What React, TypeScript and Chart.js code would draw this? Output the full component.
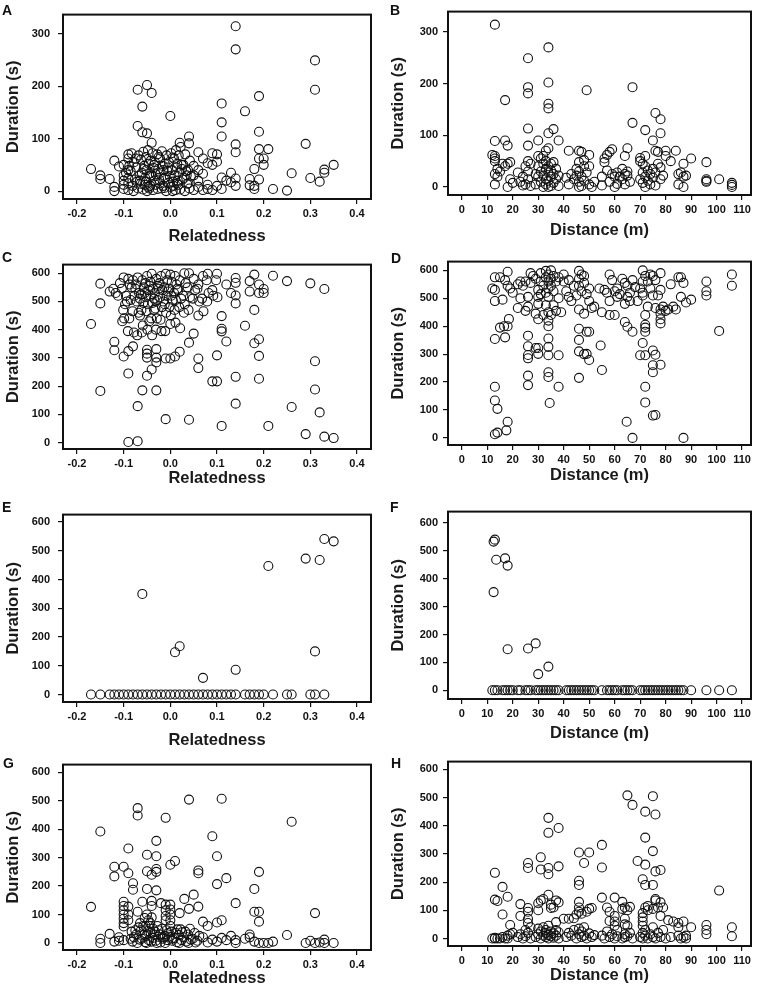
import React, { useEffect, useRef } from "react";
import { Chart, registerables } from "chart.js";

Chart.register(...registerables);
Chart.defaults.font.family = '"Liberation Sans", Arial, sans-serif';

// ---------- tick labels ----------
const relTicks = [-0.2, -0.1, 0.0, 0.1, 0.2, 0.3, 0.4];
const distTicks = [0, 10, 20, 30, 40, 50, 60, 70, 80, 90, 100, 110];
const dur300Ticks = [0, 100, 200, 300];
const dur600Ticks = [0, 100, 200, 300, 400, 500, 600];

// ---------- data: [x, duration] ----------
const relDurA: [number, number][] = [
  [0.14, 314], [0.14, 270], [0.31, 249], [0.31, 193], [-0.07, 193], [-0.05, 202], [-0.04, 187], [-0.06, 161],
  [0.0, 143], [0.11, 167], [0.11, 131], [0.11, 104], [0.16, 152], [0.19, 181], [0.19, 113], [0.29, 90],
  [0.14, 89], [0.14, 74], [0.21, 80], [0.19, 80], [0.2, 62], [0.2, 50], [0.19, 62], [0.18, 42], [0.19, 22],
  [0.18, 10], [0.04, 104], [0.04, 91], [0.02, 92], [-0.04, 92], [-0.07, 124], [-0.06, 112], [-0.05, 110],
  [0.35, 50], [0.33, 41], [0.33, 35], [0.32, 18], [0.3, 25], [0.26, 34], [0.25, 1], [0.22, 4], [0.18, 4],
  [0.17, 23], [0.17, 11], [0.14, 24], [0.14, 10], [0.13, 35], [0.13, 17], [0.11, 26], [0.11, 4], [0.12, 20],
  [0.1, 10], [0.09, 2], [0.08, 4], [0.08, 12], [0.1, 56], [0.09, 72], [0.1, 70], [0.08, 53], [0.09, 50],
  [0.07, 62], [0.06, 74], [0.06, 40], [0.07, 33], [0.06, 20], [0.06, 8], [0.05, 48], [0.05, 30], [0.05, 2], [0.07, 2],
  [-0.17, 42], [-0.15, 30], [-0.15, 23], [-0.13, 23], [-0.12, 58], [-0.11, 47], [-0.12, 8], [-0.12, 0],
  [-0.1, 50], [-0.1, 30], [-0.1, 20], [-0.1, 12], [-0.1, 4], [-0.09, 70], [-0.09, 62], [-0.09, 40], [-0.09, 25],
  [-0.09, 15], [-0.09, 2],
  [-0.083, 72], [-0.078, 55], [-0.085, 38], [-0.076, 22], [-0.081, 10], [-0.079, 0],
  [-0.068, 68], [-0.073, 45], [-0.066, 30], [-0.071, 18], [-0.069, 5],
  [-0.058, 75], [-0.063, 60], [-0.056, 48], [-0.061, 35], [-0.054, 25], [-0.064, 14], [-0.059, 3],
  [-0.048, 78], [-0.052, 65], [-0.046, 52], [-0.051, 40], [-0.044, 28], [-0.053, 18], [-0.047, 8], [-0.05, 0],
  [-0.038, 72], [-0.042, 58], [-0.036, 44], [-0.041, 30], [-0.034, 20], [-0.043, 10], [-0.037, 2],
  [-0.028, 70], [-0.033, 55], [-0.026, 42], [-0.031, 32], [-0.024, 22], [-0.032, 12], [-0.027, 4],
  [-0.018, 76], [-0.022, 62], [-0.016, 48], [-0.021, 35], [-0.014, 25], [-0.023, 15], [-0.019, 5],
  [-0.008, 68], [-0.012, 52], [-0.006, 38], [-0.011, 26], [-0.004, 16], [-0.013, 6], [-0.009, 0],
  [0.002, 72], [-0.003, 55], [0.004, 40], [-0.001, 28], [0.006, 18], [0.001, 8],
  [0.012, 78], [0.008, 62], [0.014, 45], [0.009, 30], [0.016, 20], [0.007, 10], [0.011, 2],
  [0.022, 84], [0.018, 68], [0.024, 50], [0.019, 35], [0.026, 22], [0.017, 12], [0.021, 3],
  [0.032, 70], [0.028, 50], [0.034, 38], [0.029, 25], [0.036, 14], [0.031, 0],
  [0.042, 58], [0.038, 40], [0.044, 28], [0.039, 15], [0.041, 5],
  [-0.095, 35], [-0.088, 48], [-0.074, 62], [-0.057, 42], [-0.045, 33], [-0.035, 50], [-0.025, 65],
  [-0.015, 40], [-0.005, 45], [0.005, 64], [0.015, 52], [0.025, 42], [0.035, 30], [-0.065, 20],
  [-0.055, 12], [-0.045, 5], [-0.015, 10], [0.005, 0], [0.015, 15],
];

const distDurB: [number, number][] = [
  [13, 314], [34, 270], [26, 249], [26, 193], [26, 181], [34, 202], [49, 187], [67, 193], [17, 168], [34, 161],
  [34, 152], [76, 143], [78, 131], [67, 124], [72, 110], [26, 113], [36, 112], [34, 104], [78, 104], [75, 90],
  [13, 89], [17, 90], [18, 80], [26, 80], [30, 90], [38, 90], [33, 70], [32, 60], [34, 75], [65, 75], [64, 60],
  [59, 73], [58, 68], [57, 62], [56, 55], [46, 70], [47, 68], [42, 70], [50, 62], [76, 70], [77, 68], [80, 70],
  [84, 70], [80, 60], [82, 50], [90, 55], [96, 48], [87, 45], [72, 60], [70, 56],
  [13, 60], [13, 55], [13, 50], [12, 62], [13, 25], [13, 5], [14, 35], [14, 20], [15, 30], [16, 45], [18, 45],
  [19, 48], [17, 40], [18, 0], [19, 15], [20, 8],
  [22, 28], [23, 10], [24, 20], [25, 40], [25, 5], [26, 50], [26, 30], [26, 15], [27, 2], [27, 45], [24, 3],
  [29, 5], [30, 20], [30, 40], [30, 60], [31, 10], [31, 30], [32, 0], [32, 45], [32, 22], [33, 15], [33, 35],
  [33, 5], [34, 28], [34, 12], [34, 40], [35, 2], [35, 20], [35, 32], [36, 8], [36, 25], [36, 48], [37, 15],
  [37, 35], [38, 2], [38, 22], [31, 55], [29, 25], [33, 50], [34, 0], [35, 45],
  [41, 18], [42, 5], [43, 25], [44, 15], [45, 35], [46, 10], [46, 48], [46, 30], [47, 2], [47, 20], [48, 40],
  [48, 12], [48, 52], [49, 28], [50, 5], [50, 40], [51, 0], [52, 10], [46, 0], [45, 22],
  [55, 20], [55, 3], [56, 48], [57, 32], [58, 10], [59, 25], [60, 0], [60, 20], [61, 28], [61, 6],
  [63, 15], [63, 35], [64, 25], [64, 5], [65, 22], [65, 30], [66, 10], [62, 20],
  [70, 15], [71, 28], [71, 8], [72, 40], [72, 20], [72, 0], [73, 32], [73, 12], [74, 25], [74, 5], [75, 35],
  [75, 18], [76, 28], [76, 3], [77, 45], [78, 15], [78, 38], [79, 22], [70, 50], [71, 45],
  [85, 25], [85, 5], [86, 28], [87, 0], [87, 20], [88, 22],
  [96, 12], [96, 10], [96, 15], [101, 15], [106, 8], [106, 0], [106, 4],
];

const relDurC: [number, number][] = [
  [-0.15, 183], [-0.15, 493], [-0.15, 563], [-0.17, 420], [-0.12, 357], [-0.12, 327], [-0.1, 305], [-0.09, 324],
  [-0.08, 341], [-0.09, 245], [-0.06, 185], [-0.07, 129], [-0.09, 2], [-0.07, 5], [-0.03, 185], [-0.05, 237],
  [-0.04, 259], [-0.03, 284], [-0.03, 301], [-0.05, 329], [-0.05, 301], [-0.05, 315], [-0.03, 331], [-0.01, 83],
  [0.04, 81], [0.11, 59], [0.21, 59], [-0.01, 298], [0.0, 298], [0.01, 305], [0.02, 322], [0.04, 354],
  [0.05, 386], [0.06, 298], [0.06, 264], [0.09, 217], [0.1, 217], [0.1, 309], [0.12, 358], [0.11, 403],
  [0.11, 394], [0.11, 448], [0.14, 233], [0.14, 138], [0.16, 414], [0.18, 352], [0.19, 366], [0.19, 307],
  [0.19, 226], [0.18, 470], [0.26, 126], [0.29, 30], [0.31, 288], [0.31, 188], [0.32, 107], [0.33, 21],
  [0.35, 16], [0.22, 591], [0.25, 572], [0.3, 564], [0.33, 544], [0.17, 572], [0.18, 595], [0.19, 560],
  [0.2, 544], [0.2, 530], [0.17, 535], [0.19, 530], [0.14, 583], [0.14, 566], [0.14, 521], [0.14, 493],
  [0.13, 530], [0.12, 560],
  [-0.13, 535], [-0.122, 545], [-0.117, 530], [-0.108, 565], [-0.112, 520],
  [-0.1, 585], [-0.104, 545], [-0.097, 490], [-0.101, 470], [-0.099, 440], [-0.103, 430],
  [-0.09, 580], [-0.087, 560], [-0.093, 500], [-0.088, 440], [-0.091, 395],
  [-0.08, 575], [-0.083, 550], [-0.077, 520], [-0.081, 465], [-0.078, 390],
  [-0.07, 585], [-0.073, 560], [-0.067, 530], [-0.072, 500], [-0.068, 460], [-0.071, 380],
  [-0.06, 575], [-0.057, 550], [-0.063, 525], [-0.058, 495], [-0.062, 470], [-0.059, 415], [-0.061, 390],
  [-0.05, 590], [-0.053, 565], [-0.047, 540], [-0.052, 515], [-0.048, 490], [-0.051, 465], [-0.049, 400],
  [-0.04, 598], [-0.043, 570], [-0.037, 545], [-0.042, 520], [-0.038, 495], [-0.041, 440], [-0.039, 380],
  [-0.03, 580], [-0.027, 555], [-0.033, 530], [-0.028, 505], [-0.032, 475], [-0.029, 440], [-0.031, 400],
  [-0.02, 590], [-0.023, 565], [-0.017, 540], [-0.022, 515], [-0.018, 480], [-0.021, 435], [-0.019, 395],
  [-0.01, 598], [-0.007, 575], [-0.013, 550], [-0.008, 520], [-0.012, 490], [-0.009, 460], [-0.011, 395],
  [0.0, 595], [0.003, 570], [-0.003, 545], [0.002, 520], [-0.002, 480], [0.001, 450], [0.0, 420],
  [0.01, 590], [0.013, 560], [0.008, 530], [0.012, 505], [0.009, 470], [0.011, 425],
  [0.02, 575], [0.017, 540], [0.023, 510], [0.019, 480], [0.021, 405],
  [0.03, 600], [0.033, 565], [0.028, 520], [0.031, 490], [0.029, 460],
  [0.04, 600], [0.037, 550], [0.042, 515], [0.039, 470],
  [0.05, 580], [0.053, 540], [0.048, 510],
  [0.06, 560], [0.058, 545], [0.062, 500], [0.06, 450],
  [0.07, 590], [0.068, 510], [0.071, 465],
  [0.08, 598], [0.078, 575], [0.082, 530], [0.079, 500],
  [0.09, 540], [0.092, 520], [0.1, 598], [0.098, 575], [0.101, 515],
  [-0.095, 520], [-0.085, 505], [-0.075, 545], [-0.065, 510], [-0.055, 530], [-0.045, 555], [-0.035, 510],
  [-0.025, 545], [-0.015, 500], [-0.005, 535], [0.005, 505], [0.015, 545], [-0.065, 450], [-0.045, 430],
  [-0.035, 470],
];

const distDurD: [number, number][] = [
  [13, 183], [13, 134], [14, 104], [13, 13], [14, 19], [17.5, 27], [18, 58], [13, 354], [15, 395], [17, 360],
  [18, 400], [18.5, 426], [16.6, 400], [26, 366], [26, 328], [26, 297], [26, 285], [26, 223], [26, 189],
  [29, 322], [30, 322], [30, 301], [34, 296], [34, 326], [34, 356], [34, 235], [34, 218], [34.5, 125],
  [38, 183], [38, 296], [46, 391], [46, 351], [46, 310], [46, 215], [49, 301], [49, 380], [50, 279],
  [54.5, 331], [55, 243], [64.7, 58], [67, 0], [87, 0], [64, 415], [65, 398], [67, 380],
  [70, 296], [71, 340], [72, 296], [72, 380], [72, 395], [72, 405], [72, 183], [72, 127], [75, 313], [76, 298],
  [75, 260], [75, 235], [78, 262], [75, 80], [76, 82], [78, 410], [78, 425], [78, 445], [101, 383],
  [12, 535], [13, 530], [13, 490], [13, 575], [15, 575], [16, 495], [18, 595], [18, 545], [19, 535], [20, 520], [17, 565],
  [22, 465], [22, 550], [23, 560], [23, 500], [24, 545], [25, 560], [25, 455], [26, 505], [26, 470], [27, 555], [27, 590],
  [28, 580], [29, 570], [29, 445], [30, 530], [30, 505], [30, 480], [30, 425], [31, 560], [31, 590], [31, 515],
  [32, 545], [32, 440], [33, 598], [33, 575], [33, 520], [33, 475], [34, 560], [34, 585], [34, 535], [34, 505],
  [34, 450], [34, 420], [34, 400], [35, 600], [35, 570], [35, 545], [35, 440], [36, 580], [36, 525], [36, 475],
  [37, 560], [37, 455], [38, 575], [38, 500], [39, 450],
  [40, 585], [40, 560], [41, 525], [42, 565], [42, 505], [43, 490], [44, 545], [45, 510], [46, 598], [46, 570],
  [46, 545], [46, 460], [47, 585], [47, 525], [48, 580], [48, 555], [48, 445], [49, 515], [50, 490], [50, 535],
  [51, 465], [52, 470], [50, 380], [48, 300],
  [54, 535], [55, 450], [56, 530], [57, 520], [58, 585], [58, 490], [58, 440], [59, 565], [60, 525], [60, 440],
  [61, 505], [61, 535], [62, 515],
  [63, 570], [64, 480], [64, 555], [65, 545], [65, 505], [66, 520], [66, 490], [67, 565], [68, 540],
  [69, 490], [70, 535], [71, 600], [71, 560], [71, 520], [71, 510], [72, 580], [72, 440], [73, 560], [73, 470],
  [74, 585], [74, 535], [75, 580], [75, 510], [76, 565], [76, 465], [77, 510], [78, 590], [78, 530], [78, 460],
  [79, 470], [80, 455],
  [81, 460], [82, 550], [83, 470], [84, 460], [85, 575], [86, 575], [86, 505], [87, 555], [88, 485], [90, 495],
  [96, 560], [96, 525], [96, 510], [106, 585], [106, 545],
];

const relDurE: [number, number][] = [
  [-0.06, 350], [0.01, 147], [0.02, 168], [0.07, 58], [0.14, 86], [0.21, 447], [0.29, 473], [0.32, 468],
  [0.33, 541], [0.35, 533], [0.31, 150],
  [-0.17, 0], [-0.15, 0], [-0.13, 0], [-0.12, 0], [-0.11, 0], [-0.1, 0], [-0.09, 0], [-0.08, 0], [-0.07, 0],
  [-0.06, 0], [-0.05, 0], [-0.04, 0], [-0.03, 0], [-0.02, 0], [-0.01, 0], [0.0, 0], [0.01, 0], [0.02, 0],
  [0.03, 0], [0.04, 0], [0.05, 0], [0.06, 0], [0.07, 0], [0.08, 0], [0.09, 0], [0.1, 0], [0.11, 0], [0.12, 0],
  [0.13, 0], [0.14, 0], [0.16, 0], [0.17, 0], [0.18, 0], [0.19, 0], [0.2, 0], [0.22, 0], [0.25, 0], [0.26, 0],
  [0.3, 0], [0.31, 0], [0.33, 0],
];

const distDurF: [number, number][] = [
  [12.5, 533], [13, 540], [13.5, 468], [17, 473], [18, 447], [12.5, 352], [18, 147], [26, 150], [29, 168],
  [30, 58], [34, 85],
  [12, 0], [13, 0], [14, 0], [16, 0], [17, 0], [18, 0], [19, 0], [20, 0], [22, 0], [23, 0], [25, 0], [26, 0],
  [27, 0], [29, 0], [30, 0], [31, 0], [32, 0], [33, 0], [34, 0], [35, 0], [36, 0], [37, 0], [38, 0], [41, 0],
  [42, 0], [43, 0], [44, 0], [45, 0], [46, 0], [47, 0], [48, 0], [49, 0], [50, 0], [51, 0], [52, 0], [55, 0],
  [57, 0], [58, 0], [59, 0], [60, 0], [61, 0], [63, 0], [64, 0], [65, 0], [66, 0], [67, 0], [70, 0], [71, 0],
  [72, 0], [73, 0], [74, 0], [75, 0], [76, 0], [77, 0], [78, 0], [79, 0], [80, 0], [81, 0], [82, 0], [83, 0],
  [84, 0], [85, 0], [86, 0], [87, 0], [90, 0], [96, 0], [101, 0], [106, 0],
];

const relDurG: [number, number][] = [
  [-0.15, 392], [-0.17, 127], [-0.07, 474], [-0.07, 448], [0.04, 504], [0.11, 507], [-0.01, 440], [0.26, 426],
  [-0.09, 332], [-0.03, 359], [-0.05, 310], [-0.03, 305], [0.09, 375], [0.1, 305],
  [-0.12, 268], [-0.12, 234], [-0.1, 268], [-0.09, 245], [-0.08, 210], [-0.08, 187], [-0.05, 252], [-0.05, 190],
  [-0.04, 240], [-0.03, 250], [-0.03, 260], [-0.03, 185], [0.0, 275], [0.01, 288], [0.06, 255], [0.06, 245],
  [0.1, 207], [0.12, 228], [0.19, 250], [0.18, 190], [0.14, 140], [0.18, 110], [0.19, 110], [0.19, 75],
  [0.31, 105], [0.25, 28], [0.05, 170], [0.03, 155], [0.04, 120], [0.02, 105], [0.06, 128], [0.07, 75],
  [0.08, 60], [0.1, 72], [0.11, 80],
  [-0.1, 145], [-0.1, 130], [-0.1, 115], [-0.1, 100], [-0.1, 85], [-0.1, 70], [-0.1, 58], [-0.09, 128],
  [-0.09, 100], [-0.09, 80], [-0.07, 110], [-0.06, 145], [-0.04, 148], [-0.04, 130], [-0.02, 140],
  [-0.01, 135], [-0.01, 115], [-0.01, 95], [-0.01, 80], [0.0, 135], [0.0, 118], [0.0, 100], [0.0, 80], [0.0, 60],
  [0.14, 10], [0.14, 0], [0.16, 15], [0.17, 30], [0.17, 20], [0.18, 5], [0.19, 0], [0.2, 0], [0.21, 0],
  [0.22, 5], [0.29, 0], [0.3, 8], [0.31, 0], [0.32, 2], [0.33, 12], [0.33, 0], [0.35, 0], [0.12, 10],
  [0.13, 25], [0.11, 18], [0.1, 5], [0.09, 12], [0.08, 2], [0.07, 20],
  [-0.15, 15], [-0.15, 0], [-0.13, 32], [-0.12, 5], [-0.11, 20], [-0.1, 10], [-0.11, 8],
  [-0.083, 40], [-0.078, 20], [-0.081, 5],
  [-0.068, 55], [-0.073, 30], [-0.066, 12], [-0.071, 0],
  [-0.058, 60], [-0.063, 45], [-0.056, 28], [-0.061, 15], [-0.054, 3],
  [-0.05, 100], [-0.047, 80], [-0.053, 60], [-0.048, 42], [-0.052, 25], [-0.046, 10], [-0.051, 0],
  [-0.04, 90], [-0.043, 70], [-0.037, 50], [-0.042, 35], [-0.038, 18], [-0.041, 5],
  [-0.028, 60], [-0.033, 40], [-0.026, 22], [-0.031, 8], [-0.029, 0],
  [-0.018, 50], [-0.022, 30], [-0.016, 15], [-0.021, 2],
  [-0.008, 45], [-0.012, 25], [-0.006, 10], [-0.011, 0],
  [0.002, 40], [-0.003, 22], [0.004, 8],
  [0.012, 35], [0.008, 18], [0.014, 3],
  [0.022, 48], [0.018, 28], [0.024, 10], [0.019, 0],
  [0.032, 40], [0.028, 20], [0.034, 5],
  [0.042, 50], [0.038, 30], [0.044, 12], [0.039, 0],
  [0.052, 35], [0.048, 15], [0.054, 2],
  [0.062, 25], [0.058, 8],
  [-0.065, 70], [-0.055, 88], [-0.045, 60], [-0.035, 28], [-0.025, 45], [-0.015, 20], [-0.005, 35],
  [0.005, 15], [0.015, 48], [0.025, 38], [-0.075, 45], [-0.085, 15],
];

const distDurH: [number, number][] = [
  [65, 508], [67, 474], [75, 505], [72, 450], [76, 440], [34, 428], [34, 375], [38, 392], [72, 358], [55, 332],
  [75, 310], [46, 305], [50, 305], [31, 288], [26, 268], [26, 250], [31, 245], [34, 250], [34, 228], [38, 256],
  [48, 268], [55, 252], [69, 275], [72, 262], [71, 210], [72, 190], [75, 190], [76, 238], [78, 243], [46, 205],
  [46, 190], [13, 233], [13, 138], [14, 133], [16, 183], [18, 148], [16, 85], [19, 48], [101, 170],
  [23, 122], [23, 80], [26, 108], [26, 95], [26, 70], [26, 55], [30, 125], [30, 100], [31, 135], [32, 140],
  [34, 155], [35, 120], [35, 108], [37, 135], [37, 58], [36, 110], [38, 128], [40, 70], [42, 70], [44, 72],
  [45, 85], [46, 130], [46, 110], [46, 95], [47, 88], [49, 95], [50, 105], [51, 108],
  [55, 145], [57, 110], [58, 95], [58, 62], [60, 145], [60, 80], [60, 60], [60, 45], [63, 105], [63, 130],
  [64, 110], [64, 70], [64, 50], [65, 100], [65, 45], [66, 112],
  [71, 90], [71, 75], [71, 60], [71, 45], [72, 110], [73, 115], [73, 100], [75, 105], [76, 140], [76, 135],
  [77, 110], [78, 128], [78, 80], [79, 110], [81, 65], [83, 60], [85, 55], [85, 40], [87, 60], [90, 40],
  [96, 48], [96, 30], [96, 15], [106, 40], [106, 8],
  [12, 0], [13, 2], [13, 0], [14, 0], [15, 0], [16, 5], [17, 0], [18, 10], [18, 0], [19, 15], [20, 20],
  [22, 5], [23, 15], [24, 0], [25, 30], [25, 8], [26, 20], [27, 0], [27, 40],
  [29, 5], [30, 15], [30, 35], [31, 0], [31, 25], [32, 10], [32, 40], [33, 5], [33, 20], [33, 30], [34, 0],
  [34, 12], [34, 45], [35, 8], [35, 25], [36, 3], [36, 18], [37, 30], [37, 10], [38, 0], [38, 22],
  [41, 5], [42, 20], [43, 10], [44, 30], [45, 0], [46, 15], [46, 35], [47, 5], [47, 25], [48, 10], [48, 40],
  [49, 0], [50, 18], [51, 5], [52, 12],
  [55, 10], [56, 0], [57, 25], [58, 5], [59, 15], [60, 0], [61, 30], [61, 8],
  [63, 0], [64, 15], [64, 5], [65, 8], [66, 20], [67, 0],
  [70, 5], [71, 20], [71, 0], [72, 30], [72, 10], [73, 0], [74, 15], [75, 5], [75, 40], [76, 0], [77, 20],
  [78, 5], [79, 30], [80, 0], [82, 5], [85, 10], [86, 0], [87, 5], [88, 10], [88, 0],
];

// ---------- layout ----------
type Rect = { x: number; y: number; w: number; h: number };
type Box = { l: number; t: number; r: number; b: number };
type PanelCfg = {
  label: string;
  labelPos: [number, number];
  cell: Rect;
  box: Box;
  points: [number, number][];
  xRange: [number, number];
  yRange: [number, number];
  xTicks: number[];
  yTicks: number[];
  xDecimals: number;
  xTitle: string;
  xTitleY: number;
  yTitleX: number;
  yTickPad: number;
};

const TITLE_SIZE = 16.5;
const TITLE_LH = 1.2;

const panels: PanelCfg[] = [
  { label: "A", labelPos: [2, 3], cell: { x: 0, y: 0, w: 380, h: 250 }, box: { l: 63, t: 5, r: 371, b: 199 },
    points: relDurA, xRange: [-0.23, 0.43], yRange: [-15, 336.2], xTicks: relTicks, yTicks: dur300Ticks,
    xDecimals: 1, xTitle: "Relatedness", xTitleY: 236.7, yTitleX: 13, yTickPad: 8 },
  { label: "B", labelPos: [390, 3], cell: { x: 380, y: 0, w: 380, h: 250 }, box: { l: 448, t: 5, r: 751, b: 195 },
    points: distDurB, xRange: [-5.4, 113.5], yRange: [-15.5, 339.2], xTicks: distTicks, yTicks: dur300Ticks,
    xDecimals: 0, xTitle: "Distance (m)", xTitleY: 230, yTitleX: 398, yTickPad: 5 },
  { label: "C", labelPos: [2, 250], cell: { x: 0, y: 250, w: 380, h: 250 }, box: { l: 63, t: 256, r: 371, b: 449 },
    points: relDurC, xRange: [-0.23, 0.43], yRange: [-22.7, 630.5], xTicks: relTicks, yTicks: dur600Ticks,
    xDecimals: 1, xTitle: "Relatedness", xTitleY: 478.3, yTitleX: 13, yTickPad: 8 },
  { label: "D", labelPos: [391, 251], cell: { x: 380, y: 250, w: 380, h: 250 }, box: { l: 448, t: 256, r: 751, b: 445 },
    points: distDurD, xRange: [-5.4, 113.5], yRange: [-25.4, 631.3], xTicks: distTicks, yTicks: dur600Ticks,
    xDecimals: 0, xTitle: "Distance (m)", xTitleY: 475, yTitleX: 398, yTickPad: 5 },
  { label: "E", labelPos: [2, 500], cell: { x: 0, y: 500, w: 380, h: 250 }, box: { l: 63, t: 509, r: 371, b: 702 },
    points: relDurE, xRange: [-0.23, 0.43], yRange: [-26, 626], xTicks: relTicks, yTicks: dur600Ticks,
    xDecimals: 1, xTitle: "Relatedness", xTitleY: 740, yTitleX: 13, yTickPad: 8 },
  { label: "F", labelPos: [390, 500], cell: { x: 380, y: 500, w: 380, h: 250 }, box: { l: 448, t: 505, r: 751, b: 699 },
    points: distDurF, xRange: [-5.4, 113.5], yRange: [-31.2, 640.5], xTicks: distTicks, yTicks: dur600Ticks,
    xDecimals: 0, xTitle: "Distance (m)", xTitleY: 733.3, yTitleX: 398, yTickPad: 5 },
  { label: "G", labelPos: [3, 756], cell: { x: 0, y: 750, w: 380, h: 248 }, box: { l: 63, t: 757, r: 371, b: 950 },
    points: relDurG, xRange: [-0.23, 0.43], yRange: [-24.6, 627], xTicks: relTicks, yTicks: dur600Ticks,
    xDecimals: 1, xTitle: "Relatedness", xTitleY: 978.3, yTitleX: 13, yTickPad: 8 },
  { label: "H", labelPos: [391, 756], cell: { x: 380, y: 750, w: 380, h: 248 }, box: { l: 448, t: 757, r: 751, b: 946 },
    points: distDurH, xRange: [-5.4, 113.5], yRange: [-26.7, 627.7], xTicks: distTicks, yTicks: dur600Ticks,
    xDecimals: 0, xTitle: "Distance (m)", xTitleY: 975, yTitleX: 398, yTickPad: 5 },
];

const INK = "#111";

const boxPlugin = {
  id: "frameBox",
  afterDraw(chart: any) {
    const { ctx, chartArea } = chart;
    ctx.save();
    ctx.strokeStyle = INK;
    ctx.lineWidth = 2;
    ctx.strokeRect(chartArea.left, chartArea.top, chartArea.right - chartArea.left, chartArea.bottom - chartArea.top);
    ctx.restore();
  },
};

function buildConfig(p: PanelCfg): any {
  const { cell, box } = p;
  const lh = TITLE_SIZE * TITLE_LH;
  const tickFont = { size: 11, weight: "bold" as const };
  const titleFont = { size: TITLE_SIZE, weight: "bold" as const, lineHeight: TITLE_LH };
  return {
    type: "scatter",
    data: {
      datasets: [
        {
          data: p.points.map(([x, y]) => ({ x, y })),
          pointRadius: 4.5,
          pointHoverRadius: 4.5,
          pointStyle: "circle",
          borderColor: INK,
          backgroundColor: "rgba(0,0,0,0)",
          borderWidth: 1.1,
        },
      ],
    },
    options: {
      animation: false,
      responsive: false,
      maintainAspectRatio: false,
      events: [],
      layout: { padding: { left: 0, top: box.t - cell.y, right: cell.x + cell.w - box.r, bottom: 0 } },
      plugins: { legend: { display: false }, tooltip: { enabled: false } },
      scales: {
        x: {
          type: "linear",
          position: "bottom",
          min: p.xRange[0],
          max: p.xRange[1],
          afterFit: (s: any) => { s.height = cell.y + cell.h - box.b; },
          afterBuildTicks: (s: any) => { s.ticks = p.xTicks.map((v) => ({ value: v })); },
          ticks: {
            autoSkip: false,
            maxRotation: 0,
            minRotation: 0,
            padding: 3,
            color: INK,
            font: tickFont,
            callback: (v: any) => Number(v).toFixed(p.xDecimals),
          },
          grid: { drawOnChartArea: false, drawTicks: true, tickLength: 5, color: INK, lineWidth: 1.2 },
          border: { display: false },
          title: {
            display: true,
            text: p.xTitle,
            color: "#1a1a1a",
            font: titleFont,
            padding: { top: 0, bottom: cell.y + cell.h - p.xTitleY - lh / 2 },
          },
        },
        y: {
          type: "linear",
          position: "left",
          min: p.yRange[0],
          max: p.yRange[1],
          afterFit: (s: any) => { s.width = box.l - cell.x; },
          afterBuildTicks: (s: any) => { s.ticks = p.yTicks.map((v) => ({ value: v })); },
          ticks: {
            autoSkip: false,
            padding: p.yTickPad,
            color: INK,
            font: tickFont,
            callback: (v: any) => String(v),
          },
          grid: { drawOnChartArea: false, drawTicks: true, tickLength: 5, color: INK, lineWidth: 1.2 },
          border: { display: false },
          title: {
            display: true,
            text: "Duration (s)",
            color: "#1a1a1a",
            font: titleFont,
            padding: { top: p.yTitleX - cell.x - lh / 2, bottom: 0 },
          },
        },
      },
    },
    plugins: [boxPlugin],
  };
}

function Panel({ cfg }: { cfg: PanelCfg }) {
  const ref = useRef<HTMLCanvasElement | null>(null);
  useEffect(() => {
    if (!ref.current) return;
    const chart = new Chart(ref.current, buildConfig(cfg));
    return () => chart.destroy();
  }, [cfg]);
  return (
    <canvas
      ref={ref}
      width={cfg.cell.w}
      height={cfg.cell.h}
      style={{ position: "absolute", left: cfg.cell.x, top: cfg.cell.y, width: cfg.cell.w, height: cfg.cell.h }}
    />
  );
}

export default function App() {
  return (
    <div
      style={{
        position: "absolute",
        left: 0,
        top: 0,
        width: 760,
        height: 998,
        background: "#fff",
        overflow: "hidden",
        fontFamily: '"Liberation Sans", Arial, sans-serif',
      }}
    >
      {panels.map((p) => (
        <Panel key={p.label} cfg={p} />
      ))}
      {panels.map((p) => (
        <div
          key={"lbl" + p.label}
          style={{
            position: "absolute",
            left: p.labelPos[0],
            top: p.labelPos[1],
            fontSize: 14,
            lineHeight: "14px",
            fontWeight: 700,
            color: INK,
          }}
        >
          {p.label}
        </div>
      ))}
    </div>
  );
}
